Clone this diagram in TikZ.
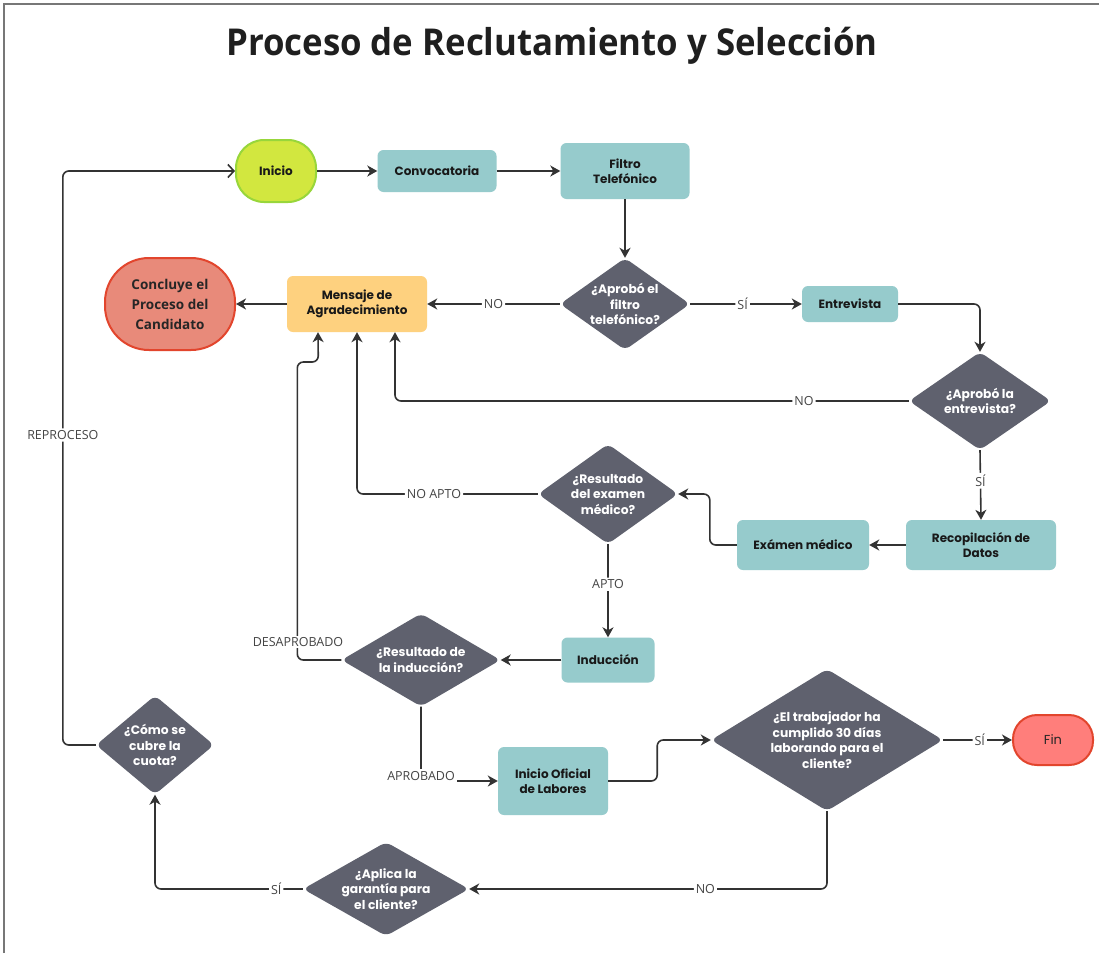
\documentclass[tikz,border=0pt]{standalone}
\usepackage{fontspec}
\setmainfont{Poppins}
\newfontfamily\osfont{Open Sans}
\usetikzlibrary{shapes.geometric,arrows.meta}
\definecolor{tealbox}{HTML}{96CBCC}
\definecolor{orangebox}{HTML}{FED17F}
\definecolor{greenfill}{HTML}{D2E73F}
\definecolor{greenline}{HTML}{98D63B}
\definecolor{redfill}{HTML}{E88A7A}
\definecolor{redline}{HTML}{E2452D}
\definecolor{finfill}{HTML}{FF7E7B}
\definecolor{dgray}{HTML}{5F616E}
\definecolor{conn}{HTML}{333333}
\definecolor{labtxt}{HTML}{444444}
\definecolor{frame}{HTML}{777777}
\tikzset{
  boxtxt/.style={font=\fontsize{12}{15.5}\selectfont\bfseries, text=black!90},
  tealnode/.style={rectangle, rounded corners=6pt, fill=tealbox, inner sep=0pt, align=center, boxtxt},
  decision/.style={diamond, rounded corners=6pt, fill=dgray, inner xsep=-18pt, inner ysep=-18pt, align=center, text=white, font=\fontsize{12.3}{15.5}\selectfont\bfseries},
  conline/.style={draw=conn, line width=1.6pt, rounded corners=6pt, -{Stealth[length=10pt,width=11pt,inset=3pt]}},
  lab/.style={fill=white, text=labtxt, inner sep=2pt, font=\osfont\fontsize{12.5}{14}\selectfont},
}
\begin{document}
\begin{tikzpicture}[x=1pt,y=-1pt]
\useasboundingbox (0,0) rectangle (1099,953);
\fill[white] (0,0) rectangle (1099,953);
% frame
\draw[frame, line width=2pt] (4,953) -- (4,4) -- (1099,4);
% title
\node[font=\osfont\bfseries\fontsize{37}{40}\selectfont, text=black!88] (title) at (552,46) {\scalebox{0.94}[1]{Proceso de Reclutamiento y Selección}};

% nodes
\node[rectangle, rounded corners=28pt, fill=greenfill, draw=greenline, line width=2pt, minimum width=80pt, minimum height=62pt, boxtxt] (inicio) at (276,171) {Inicio};
\node[tealnode, minimum width=119pt, minimum height=42pt] (convoc) at (437,171) {Convocatoria};
\node[tealnode, minimum width=129pt, minimum height=56pt] (filtro) at (625,171) {Filtro\\Telefónico};
\node[decision, minimum width=130pt, minimum height=92pt] (d1) at (625,304) {¿Aprobó el\\filtro\\telefónico?};
\node[tealnode, minimum width=96pt, minimum height=36pt] (entrev) at (850,304) {Entrevista};
\node[rectangle, rounded corners=6pt, fill=orangebox, inner sep=0pt, align=center, boxtxt, minimum width=140pt, minimum height=56pt] (msg) at (357,304) {Mensaje de\\Agradecimiento};
\node[rectangle, rounded corners=44pt, fill=redfill, draw=redline, line width=2pt, minimum width=130pt, minimum height=92pt, align=center, text=black!85, font=\osfont\bfseries\fontsize{13.5}{20}\selectfont] (concluye) at (170,304) {Concluye el\\Proceso del\\Candidato};
\node[decision, minimum width=142pt, minimum height=98pt] (d2) at (980,401) {¿Aprobó la\\entrevista?};
\node[decision, minimum width=140pt, minimum height=100pt] (d3) at (608,494) {¿Resultado\\del examen\\médico?};
\node[tealnode, minimum width=150pt, minimum height=50pt] (recop) at (981,545) {Recopilación de\\Datos};
\node[tealnode, minimum width=132pt, minimum height=50pt] (examen) at (803,545) {Exámen médico};
\node[tealnode, minimum width=93pt, minimum height=45pt] (induc) at (608,660) {Inducción};
\node[decision, minimum width=159pt, minimum height=93pt] (d4) at (421,660) {¿Resultado de\\la inducción?};
\node[decision, minimum width=118pt, minimum height=99pt] (cuota) at (155,745) {¿Cómo se\\cubre la\\cuota?};
\node[tealnode, minimum width=110pt, minimum height=68pt] (oficial) at (553,781) {Inicio Oficial\\de Labores};
\node[decision, minimum width=232pt, minimum height=142pt] (d5) at (827,740) {¿El trabajador ha\\cumplido 30 días\\laborando para el\\cliente?};
\node[rectangle, rounded corners=24pt, fill=finfill, draw=redline, line width=2pt, minimum width=80pt, minimum height=50pt, text=black!85, font=\fontsize{13}{15}\selectfont] (fin) at (1053,740) {Fin};
\node[decision, minimum width=166pt, minimum height=94pt] (d6) at (386,889) {¿Aplica la\\garantía para\\el cliente?};

% connectors
\draw[draw=conn, line width=1.6pt, rounded corners=6pt, -{Straight Barb[length=6pt,width=13pt]}] (cuota.west) -- ++(-33,0) |- (inicio.west) node[lab, pos=0.27] (lreproc) {REPROCESO};
\draw[conline] (inicio.east) -- (convoc.west);
\draw[conline] (convoc.east) -- (filtro.west);
\draw[conline] (filtro.south) -- (d1.north);
\draw[conline] (d1.west) -- (msg.east) node[lab, pos=0.5] (lno1) {NO};
\draw[conline] (d1.east) -- (entrev.west) node[lab, pos=0.47] (lsi1) {SÍ};
\draw[conline] (msg.west) -- (concluye.east);
\draw[conline] (entrev.east) -| (d2.north);
\draw[conline] (d2.west) -| ([xshift=38pt]msg.south) node[lab, pos=0.102] (lno2) {NO};
\draw[conline] (d2.south) -- (recop.north) node[lab, pos=0.44] (lsi2) {SÍ};
\draw[conline] (recop.west) -- (examen.east);
\draw[conline] (examen.west) -- ++(-27,0) |- (d3.east);
\draw[conline] (d3.west) -| (msg.south) node[lab, pos=0.287] (lnoapto) {NO APTO};
\draw[conline] (d3.south) -- (induc.north) node[lab, pos=0.43] (lapto) {APTO};
\draw[conline] (induc.west) -- (d4.east);
\draw[conline] (d4.west) -- ++(-44,0) -- ++(0,-298) -- ++(21,0) -- ([xshift=-39pt]msg.south);
\node[lab, inner sep=1pt] (ldesap) at (298,642) {DESAPROBADO};
\draw[conline] (d4.south) |- (oficial.west);
\node[lab] (laprob) at (421,776) {APROBADO};
\draw[conline] (oficial.east) -- ++(49,0) |- (d5.west);
\draw[conline] (d5.east) -- (fin.west) node[lab, pos=0.53] (lsi3) {SÍ};
\draw[conline] (d5.south) |- (d6.east) node[lab, pos=0.67] (lno3) {NO};
\draw[conline] (d6.west) -| (cuota.south) node[lab, pos=0.09] (lsi4) {SÍ};
\end{tikzpicture}
\end{document}
